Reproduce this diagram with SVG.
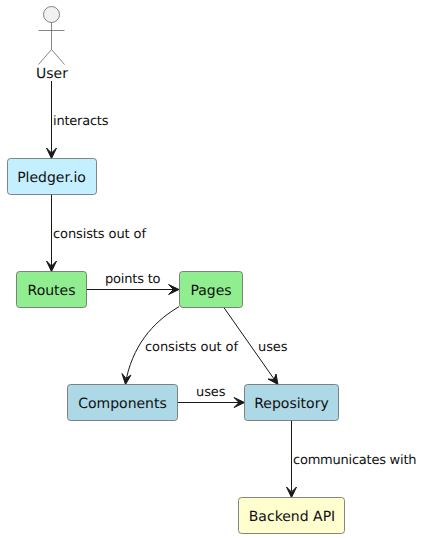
<svg xmlns="http://www.w3.org/2000/svg" width="423" height="538" viewBox="0 0 423 538">
<style>
.n{stroke:#666;stroke-width:.8}
.t{font-family:"DejaVu Sans",sans-serif;font-size:14px;fill:#111;text-anchor:middle;text-rendering:geometricPrecision}
.l{font-family:"DejaVu Sans",sans-serif;font-size:13px;fill:#111;text-rendering:geometricPrecision}
.c{fill:none;stroke:#181818;stroke-width:1}
.h{fill:#181818;stroke:#181818;stroke-width:1;stroke-linejoin:miter}
</style>
<rect width="423" height="538" fill="#fff"/>
<g id="connectors">
<path class="c" d="M51.500 81V153"/><path class="h" d="M51.500 158.500L46.500 148L51.500 153L56.500 148Z"/>
<path class="c" d="M51.500 194V266"/><path class="h" d="M51.500 271.500L46.500 261L51.500 266L56.500 261Z"/>
<path class="c" d="M86.500 289.500H173"/><path class="h" d="M179 289.500L168.500 284.500L173.500 289.500L168.500 294.500Z"/>
<path class="c" d="M179 306.700C158 319 135 340 126.500 378"/><path class="h" d="M125.500 384.500L122 373.500L126 378.500L131 375Z"/>
<path class="c" d="M223.500 307L274 379"/><path class="h" d="M278 384.500L268 379L274 379.500L276 374Z"/>
<path class="c" d="M177.500 402.500H239"/><path class="h" d="M244.500 402.500L234 397.500L239 402.500L234 407.500Z"/>
<path class="c" d="M291.500 420V491"/><path class="h" d="M291.500 497.500L286.500 487L291.500 492L296.500 487Z"/>
</g>
<g id="user">
<circle cx="51.500" cy="14.500" r="8" fill="#f1f1f1" stroke="#666" stroke-width=".8"/>
<path d="M51.500 22.500V49.500M38.500 30.500H64.500M51.500 49.500L38.500 64.500M51.500 49.500L64.500 64.500" fill="none" stroke="#666" stroke-width=".8"/>
<text class="t" x="52" y="77.500">User</text>
</g>
<g id="pledger"><rect class="n" x="7.500" y="158.500" width="89" height="36" rx="3" fill="#c4efff"/><text class="t" x="51.500" y="181.500">Pledger.io</text></g>
<g id="routes"><rect class="n" x="16.500" y="271.500" width="70" height="36" rx="3" fill="#90ee90"/><text class="t" x="51.500" y="294.500">Routes</text></g>
<g id="pages"><rect class="n" x="179.500" y="271.500" width="63" height="36" rx="3" fill="#90ee90"/><text class="t" x="211" y="294.500">Pages</text></g>
<g id="components"><rect class="n" x="67.500" y="384.500" width="110" height="36" rx="3" fill="#add8e6"/><text class="t" x="122.500" y="407.500">Components</text></g>
<g id="repository"><rect class="n" x="244.500" y="384.500" width="94" height="36" rx="3" fill="#add8e6"/><text class="t" x="291.500" y="407.500">Repository</text></g>
<g id="backend"><rect class="n" x="238.500" y="497.500" width="106" height="36" rx="3" fill="#fefece"/><text class="t" x="292" y="520.500">Backend API</text></g>
<g id="labels">
<text class="l" x="53" y="125" textLength="55.500" lengthAdjust="spacing">interacts</text>
<text class="l" x="53" y="238" textLength="93" lengthAdjust="spacing">consists out of</text>
<text class="l" x="105" y="283" textLength="55.500" lengthAdjust="spacing">points to</text>
<text class="l" x="145" y="351" textLength="93" lengthAdjust="spacing">consists out of</text>
<text class="l" x="258" y="351" textLength="29.500" lengthAdjust="spacing">uses</text>
<text class="l" x="196" y="396" textLength="29.500" lengthAdjust="spacing">uses</text>
<text class="l" x="293" y="464" textLength="123.500" lengthAdjust="spacing">communicates with</text>
</g>
</svg>
